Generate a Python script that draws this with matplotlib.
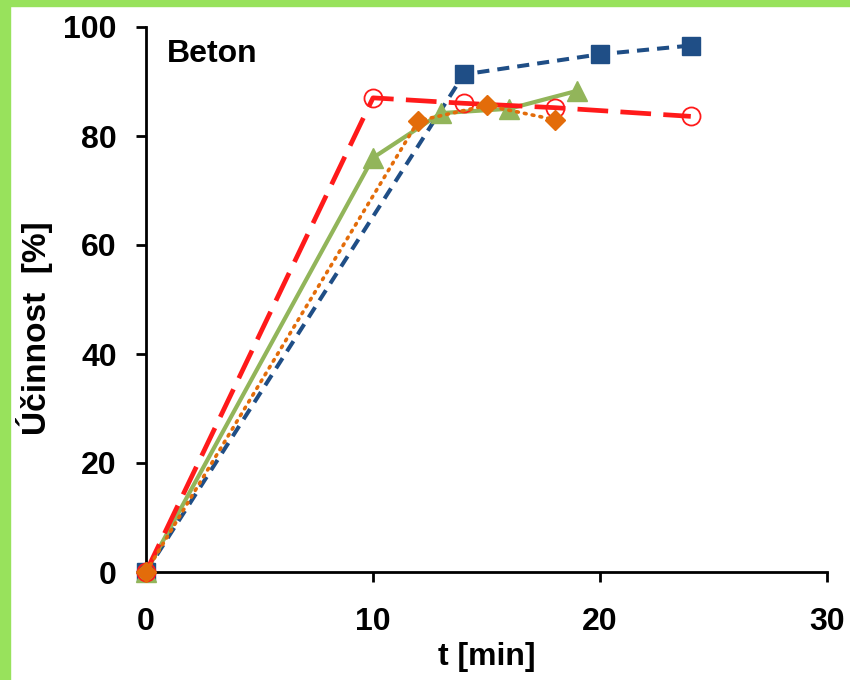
import matplotlib.pyplot as plt
from matplotlib.patches import Rectangle

plt.rcParams['font.family'] = ['Liberation Sans', 'DejaVu Sans']
plt.rcParams['font.weight'] = 'bold'

# data
t_blue = [0, 14, 20, 24]
u_blue = [0, 91.3, 95.0, 96.6]

t_red = [0, 10, 14, 18, 24]
u_red = [0, 87.0, 86.0, 85.2, 83.6]

t_orange = [0, 12, 15, 18]
u_orange = [0, 82.8, 85.6, 83.0]

t_green = [0, 10, 13, 16, 19]
u_green = [0, 76.0, 84.2, 85.0, 88.3]

fig = plt.figure(figsize=(8.5, 6.8), dpi=100)
green_bg = '#98e25c'
# green frame on top and left
fig.patches.append(Rectangle((0, 1 - 6/680), 1, 6/680, transform=fig.transFigure,
                             color=green_bg, zorder=0))
fig.patches.append(Rectangle((0, 0), 10/850, 1, transform=fig.transFigure,
                             color=green_bg, zorder=0))

ax = fig.add_axes([146/850, 1 - 572/680, (827 - 146)/850, (572 - 27)/680])

ax.plot(t_blue, u_blue, color='#1f4e86', lw=2.9, dashes=(3.0, 2.0),
        marker='s', ms=13, zorder=3, clip_on=False)
ax.plot(t_green, u_green, color='#92b55a', lw=3.0,
        marker='^', ms=14, zorder=4, clip_on=False)
ax.plot(t_red, u_red, color='#ff1a1a', lw=3.4, dashes=(6.5, 2.6),
        marker='o', ms=13, mfc='none', mec='#ff1a1a', mew=1.3, zorder=5, clip_on=False)
ax.plot(t_orange, u_orange, color='#e36c0a', lw=2.6, ls=(0, (0.5, 1.7)),
        dash_capstyle='round', marker='D', ms=10, zorder=6, clip_on=False)

ax.set_xlim(0, 30)
ax.set_ylim(0, 100)
ax.set_xticks([0, 10, 20, 30])
ax.set_yticks([0, 20, 40, 60, 80, 100])

for side in ['top', 'right']:
    ax.spines[side].set_visible(False)
for side in ['left', 'bottom']:
    ax.spines[side].set_linewidth(2)
ax.tick_params(direction='out', length=7, width=2, labelsize=23)
ax.tick_params(axis='x', pad=18)
ax.tick_params(axis='y', pad=14)
for lab in ax.get_xticklabels() + ax.get_yticklabels():
    lab.set_fontweight('bold')

ax.set_xlabel('t [min]', fontsize=23, fontweight='bold', labelpad=4)
ax.set_ylabel('Účinnost  [%]', fontsize=24, fontweight='bold')
ax.yaxis.set_label_coords(-0.137, 0.448)
ax.text(0.03, 0.95, 'Beton', transform=ax.transAxes, fontsize=23,
        fontweight='bold', va='center', ha='left')

fig.savefig('out.png', dpi=100)
